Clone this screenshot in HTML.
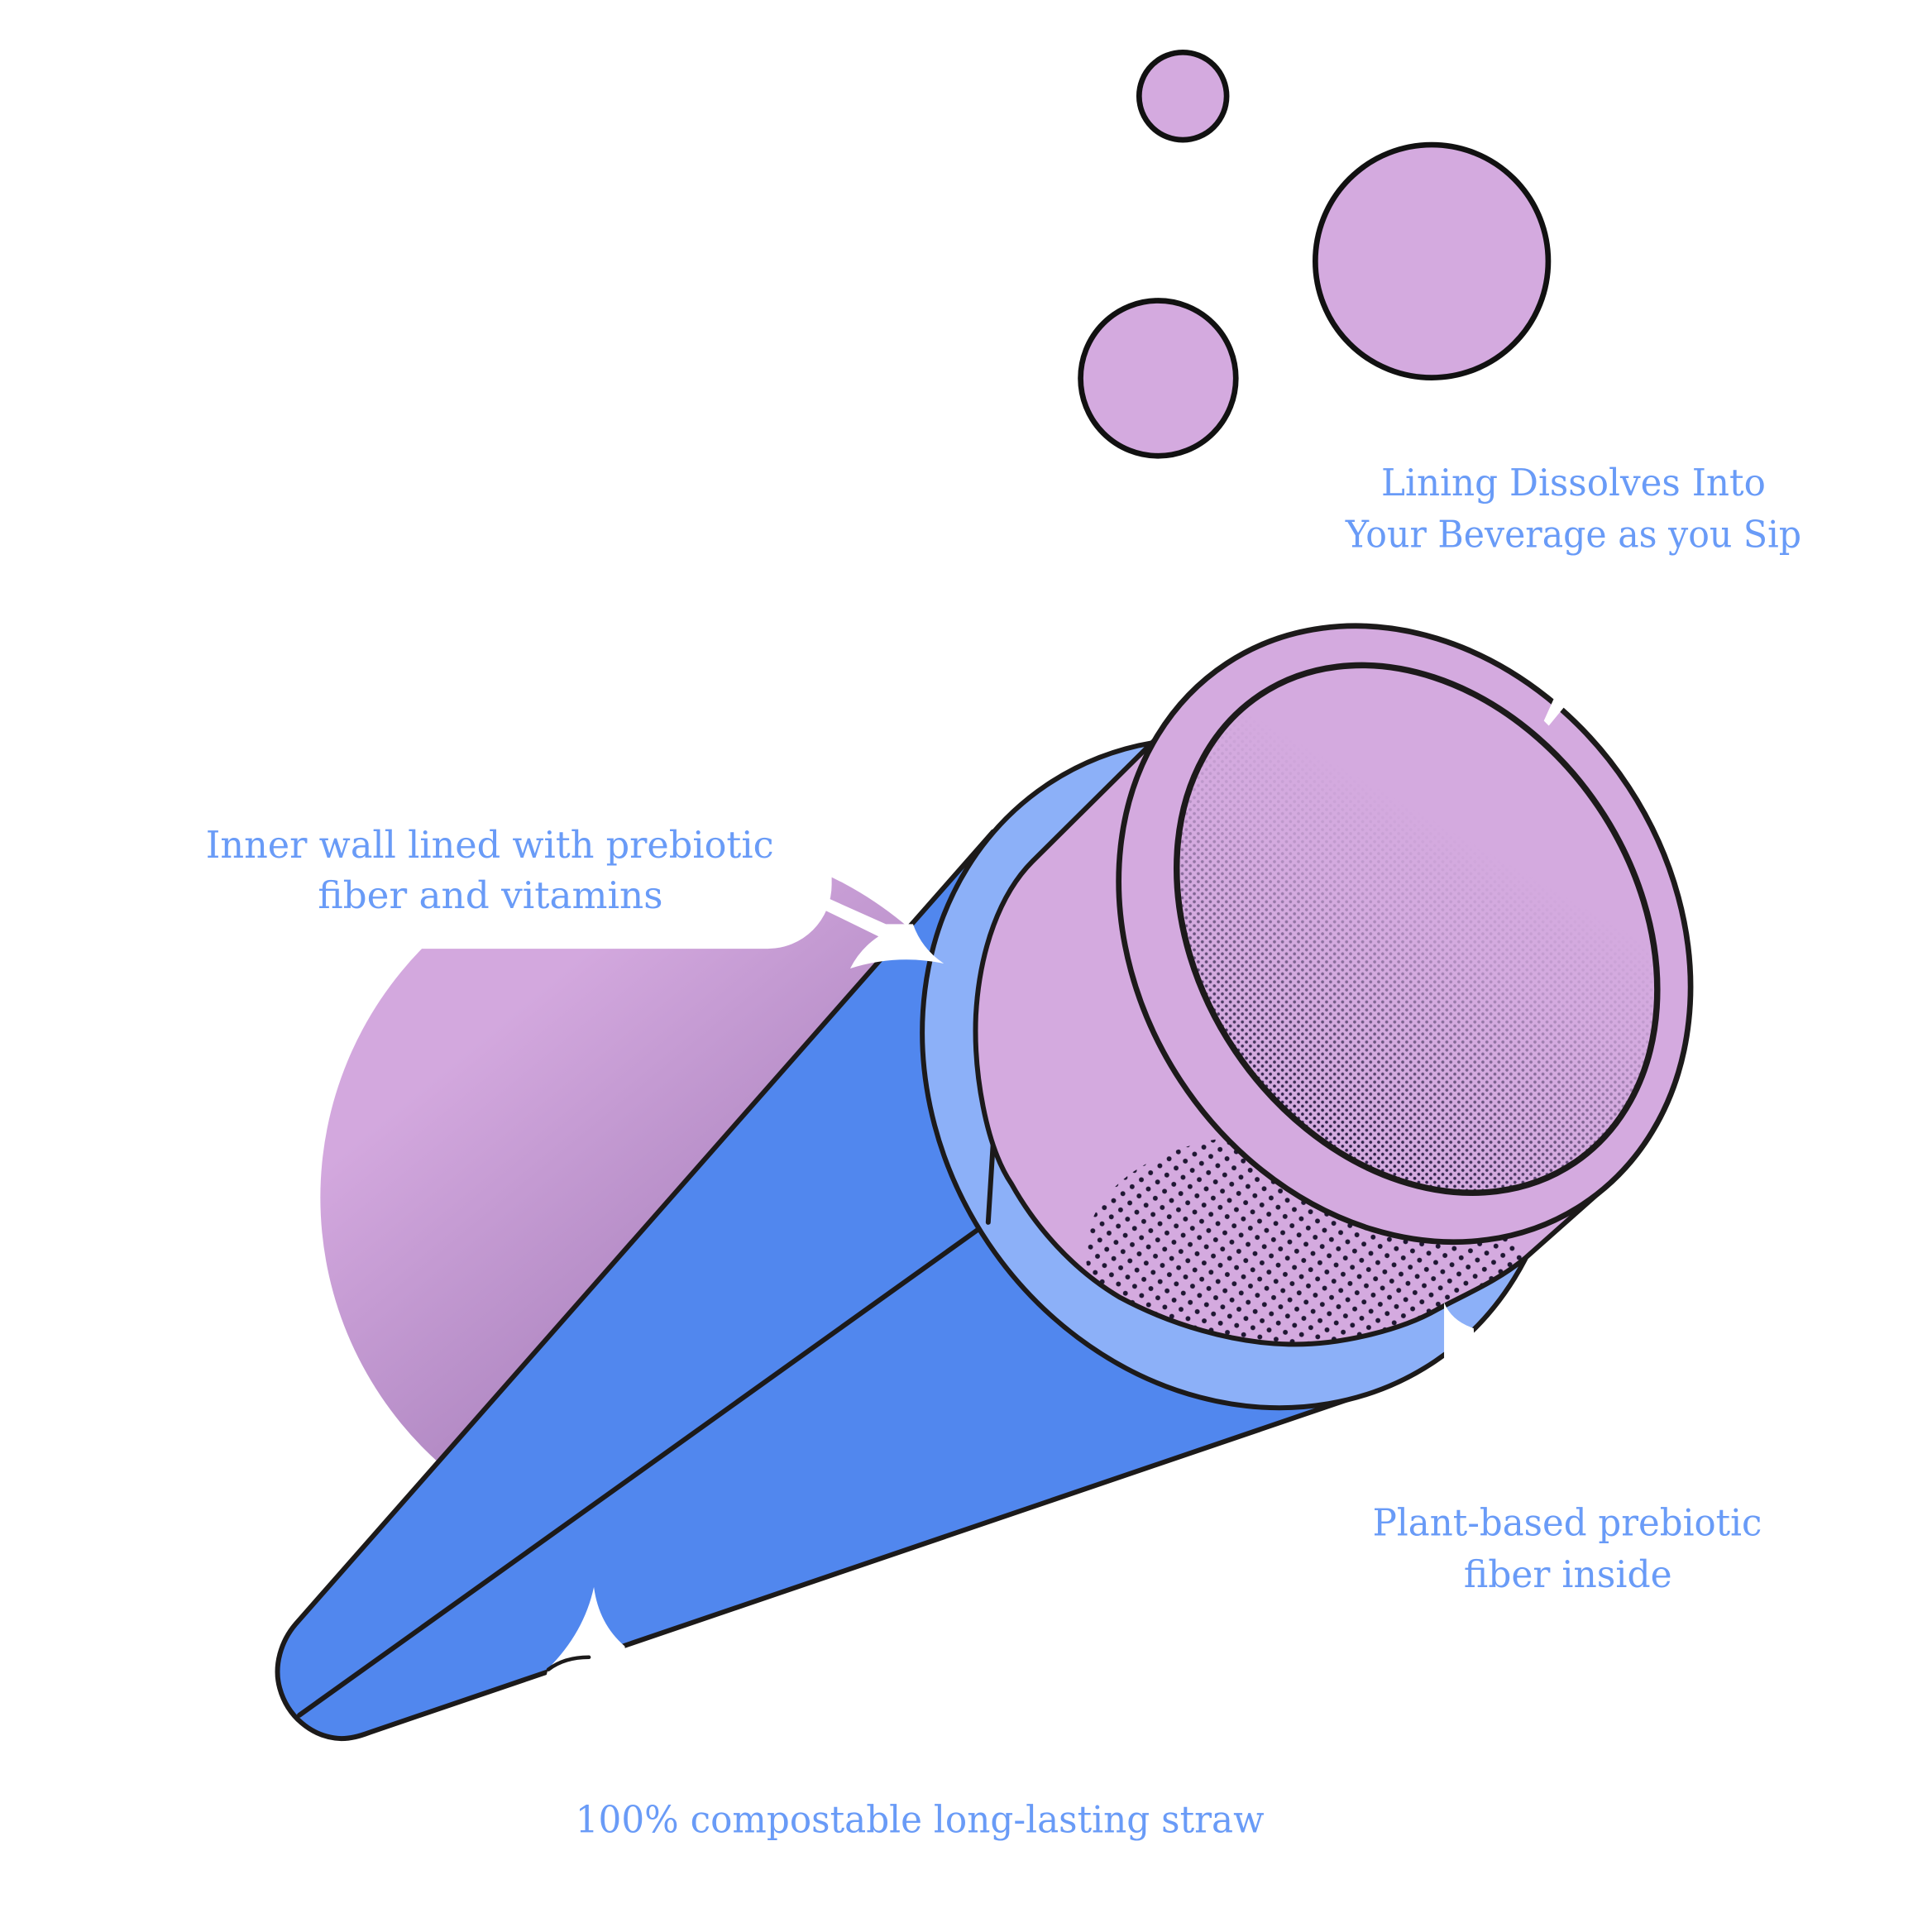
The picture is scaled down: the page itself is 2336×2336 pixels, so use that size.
<!DOCTYPE html>
<html>
<head>
<meta charset="utf-8">
<style>
html,body{margin:0;padding:0;background:#fff;}
svg{display:block;}
.lbl{font-family:"DejaVu Serif","Liberation Serif",serif;font-size:30px;fill:#699bf7;}
</style>
</head>
<body>
<svg width="2336" height="2336" viewBox="0 0 1568 1568" xmlns="http://www.w3.org/2000/svg">
<defs>
  <linearGradient id="blobG" gradientUnits="userSpaceOnUse" x1="380" y1="850" x2="570" y2="1080">
    <stop offset="0" stop-color="#d3a8de"/>
    <stop offset="1" stop-color="#ad85c0"/>
  </linearGradient>
  <pattern id="dotsFine" patternUnits="userSpaceOnUse" width="4.6" height="4.6" patternTransform="rotate(45)">
    <circle cx="2.3" cy="2.3" r="1.25" fill="#2a1f45"/>
  </pattern>
  <pattern id="dotsCoarse" patternUnits="userSpaceOnUse" width="9.4" height="9.4" patternTransform="rotate(45)">
    <circle cx="4.7" cy="4.7" r="2.0" fill="#1f1733"/>
  </pattern>
  <linearGradient id="fadeG" gradientUnits="userSpaceOnUse" x1="1190" y1="680" x2="1060" y2="905">
    <stop offset="0" stop-color="#fff" stop-opacity="0"/>
    <stop offset="0.3" stop-color="#fff" stop-opacity="0.15"/>
    <stop offset="1" stop-color="#fff" stop-opacity="1"/>
  </linearGradient>
  <mask id="fadeM" maskUnits="userSpaceOnUse" x="0" y="0" width="1568" height="1568">
    <rect x="0" y="0" width="1568" height="1568" fill="url(#fadeG)"/>
  </mask>
  <clipPath id="innerClip">
    <ellipse cx="1150" cy="754" rx="228.7" ry="177.6" transform="rotate(56 1150 754)"/>
  </clipPath>
  <clipPath id="bodyClip">
    <path d="M960 578 L838 699 C812 725 795 770 792 824 C790 870 800 930 821 961 C840 995 870 1030 909 1053 C950 1075 1000 1090 1046 1091 C1090 1092 1140 1078 1166 1063 C1190 1050 1215 1040 1238 1021 L1300 966 Z"/>
  </clipPath>
</defs>

<rect x="0" y="0" width="1568" height="1568" fill="#fff"/>

<!-- background blob -->
<circle cx="549" cy="972" r="289" fill="url(#blobG)"/>
<!-- label box covering blob -->
<path d="M0 0 H675 V718 A52 52 0 0 1 623 770 H0 Z" fill="#fff"/>

<!-- cone body -->
<path d="M806 675 L240 1318 C228 1332 222 1352 227 1370 C233 1392 252 1410 277 1411 C285 1411 292 1409 300 1406 L1114 1129 L1007 871 Z" fill="#5187ee"/>
<path d="M806 675 L240 1318 C228 1332 222 1352 227 1370 C233 1392 252 1410 277 1411 C285 1411 292 1409 300 1406 L1114 1129" fill="none" stroke="#1c1a1a" stroke-width="4" stroke-linejoin="round" stroke-linecap="round"/>
<line x1="243" y1="1392" x2="802" y2="992" stroke="#1c1a1a" stroke-width="4" stroke-linecap="round"/>

<!-- light blue ring -->
<ellipse cx="1007" cy="871" rx="282" ry="247" transform="rotate(56 1007 871)" fill="#8cb0f8" stroke="#1c1a1a" stroke-width="4"/>
<line x1="802" y1="992" x2="807" y2="912" stroke="#1c1a1a" stroke-width="4" stroke-linecap="round"/>

<!-- pink cylinder body -->
<path d="M960 578 L838 699 C812 725 795 770 792 824 C790 870 800 930 821 961 C840 995 870 1030 909 1053 C950 1075 1000 1090 1046 1091 C1090 1092 1140 1078 1166 1063 C1190 1050 1215 1040 1238 1021 L1300 966 Z" fill="#d4aadf"/>
<g clip-path="url(#bodyClip)">
  <ellipse cx="1062" cy="1032" rx="182" ry="110" transform="rotate(8 1062 1032)" fill="url(#dotsCoarse)"/>
</g>
<path d="M960 578 L838 699 C812 725 795 770 792 824 C790 870 800 930 821 961 C840 995 870 1030 909 1053 C950 1075 1000 1090 1046 1091 C1090 1092 1140 1078 1166 1063 C1190 1050 1215 1040 1238 1021 L1300 966" fill="none" stroke="#1c1a1a" stroke-width="4" stroke-linejoin="round"/>

<!-- front rim -->
<ellipse cx="1140" cy="758" rx="262.8" ry="217.4" transform="rotate(56.7 1140 758)" fill="#d4aadf" stroke="#1c1a1a" stroke-width="4.5"/>
<!-- inner face -->
<ellipse cx="1150" cy="754" rx="228.7" ry="177.6" transform="rotate(56 1150 754)" fill="#d4aadf"/>
<g clip-path="url(#innerClip)">
  <rect x="900" y="520" width="480" height="470" fill="url(#dotsFine)" mask="url(#fadeM)"/>
</g>
<ellipse cx="1150" cy="754" rx="228.7" ry="177.6" transform="rotate(56 1150 754)" fill="none" stroke="#1c1a1a" stroke-width="5"/>

<!-- white callout tails -->
<path d="M672 729 L719 750 L741 750 Q748 770 766 782 Q728 774 690 786 Q698 770 713 760 L670 739 Z" fill="#fff"/>
<path d="M1262 565 L1271 572 L1257 589 L1253 585 Z" fill="#fff"/>
<path d="M1172 1057 Q1178 1072 1196 1078 L1198 1110 L1172 1110 Z" fill="#fff"/>
<path d="M482 1288 Q486 1318 507 1336 L509 1348 L440 1372 L445 1354 Q474 1325 482 1288 Z" fill="#fff"/>
<path d="M445 1355 Q458 1345 478 1345" fill="none" stroke="#1c1a1a" stroke-width="3" stroke-linecap="round"/>

<!-- bubbles -->
<circle cx="960" cy="78" r="35.5" fill="#d4aadf" stroke="#111" stroke-width="4.5"/>
<circle cx="1162" cy="212" r="94.5" fill="#d4aadf" stroke="#111" stroke-width="4.5"/>
<circle cx="940" cy="307" r="63" fill="#d4aadf" stroke="#111" stroke-width="4.5"/>

<!-- labels -->
<text class="lbl" x="1121" y="402" textLength="312" lengthAdjust="spacingAndGlyphs">Lining Dissolves Into</text>
<text class="lbl" x="1092" y="444" textLength="370" lengthAdjust="spacingAndGlyphs">Your Beverage as you Sip</text>
<text class="lbl" x="167" y="696" textLength="461" lengthAdjust="spacingAndGlyphs">Inner wall lined with prebiotic</text>
<text class="lbl" x="258" y="737" textLength="280" lengthAdjust="spacingAndGlyphs">fiber and vitamins</text>
<text class="lbl" x="1114" y="1246" textLength="316" lengthAdjust="spacingAndGlyphs">Plant-based prebiotic</text>
<text class="lbl" x="1188" y="1288" textLength="169" lengthAdjust="spacingAndGlyphs">fiber inside</text>
<text class="lbl" x="467" y="1487" textLength="559" lengthAdjust="spacingAndGlyphs">100% compostable long-lasting straw</text>
</svg>
</body>
</html>
